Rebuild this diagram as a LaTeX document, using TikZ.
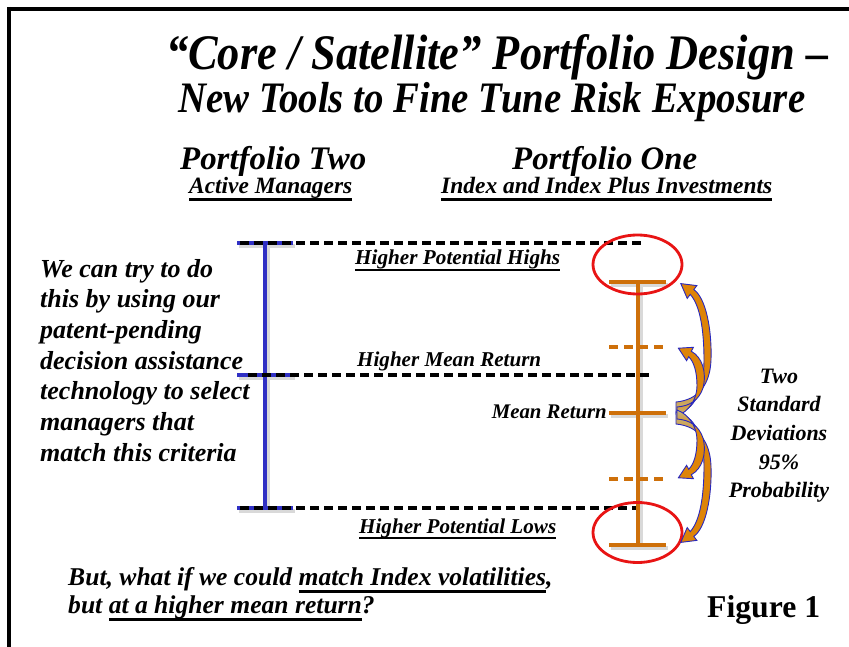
\documentclass[tikz,border=0pt]{standalone}
\usepackage{fontspec}
\usepackage{graphicx}
\setmainfont{Liberation Serif}
\definecolor{barblue}{RGB}{48,48,196}
\definecolor{barorange}{RGB}{206,112,10}
\definecolor{ellred}{RGB}{232,20,20}
\definecolor{arrline}{RGB}{40,40,190}
\definecolor{arrorange}{RGB}{222,132,8}
\definecolor{arrgreen}{RGB}{186,204,182}
\pgfdeclareverticalshading{arrup}{100bp}{color(0bp)=(arrgreen); color(18bp)=(arrgreen); color(40bp)=(arrorange); color(100bp)=(arrorange)}
\pgfdeclareverticalshading{arrdown}{100bp}{color(0bp)=(arrorange); color(60bp)=(arrorange); color(82bp)=(arrgreen); color(100bp)=(arrgreen)}
\newsavebox\ulbox
\newcommand\myul[1]{\sbox\ulbox{#1}\rlap{\rule[-0.3em]{\wd\ulbox}{0.12em}}\usebox\ulbox}
\newcommand\fitw[3]{\resizebox{#1}{!}{\fontsize{#2}{#2}\selectfont #3}}
\begin{document}
\begin{tikzpicture}[x=1pt,y=-1pt,
  txt/.style={inner sep=0pt, font=\bfseries\itshape},
  dline/.style={black, line width=3.2pt, dash pattern=on 9pt off 5pt},
  bluebar/.style={barblue, line width=3.2pt},
  orbar/.style={barorange, line width=3.5pt},
  ordash/.style={barorange, line width=3.5pt, dash pattern=on 9pt off 6pt},
  shadow/.style={black!15, line width=3.5pt},
  redell/.style={ellred, line width=2.8pt},
  arrshape/.style={draw=arrline, line width=0.9pt}]
\useasboundingbox (0,0) rectangle (849,647);
\fill[white] (0,0) rectangle (849,647);
% frame
\draw[line width=4pt] (7,9) -- (849,9);
\draw[line width=4pt] (9,7) -- (9,647);

% titles
\node[txt, anchor=base west] (t1) at (166,70) {\scalebox{1}[1.12]{\fitw{662pt}{40}{“Core / Satellite” Portfolio Design –}}};
\node[txt, anchor=base west] (t2) at (178,113) {\scalebox{1}[1.12]{\fitw{627pt}{36}{New Tools to Fine Tune Risk Exposure}}};
\node[txt, anchor=base west] (p2) at (180,170) {\fitw{186pt}{32}{Portfolio Two}};
\node[txt, anchor=base west] (p1) at (512,170) {\fitw{185pt}{32}{Portfolio One}};
\node[txt, anchor=base west] (s2) at (189,194) {\fitw{163pt}{20}{\myul{Active Managers}}};
\node[txt, anchor=base west] (s1) at (441,194) {\fitw{331pt}{20}{\myul{Index and Index Plus Investments}}};

% left paragraph
\node[txt, anchor=base west] (para) at (40,277) {\fontsize{26}{30.7}\selectfont
  \begin{tabular}[t]{@{}l@{}}We can try to do\\ this by using our\\ patent-pending\\ decision assistance\\ technology to select\\ managers that\\ match this criteria\end{tabular}};

% coordinates
\coordinate (b1) at (265,243);
\coordinate (b2) at (265,375);
\coordinate (b3) at (265,508);
\coordinate (d1) at (645,243);
\coordinate (d2) at (650,375);
\coordinate (d3) at (640,508);
\coordinate (o1) at (638,282);
\coordinate (oa) at (638,347);
\coordinate (o2) at (638,413);
\coordinate (ob) at (638,479);
\coordinate (o3) at (638,545);

% shadows
\draw[shadow] ([shift={(3,3)}]b1) -- ([shift={(3,3)}]b3);
\draw[shadow] ([shift={(3,3)}]o1) -- ([shift={(3,3)}]o3);
\foreach \c in {b1,b2,b3} \draw[shadow] ([shift={(-26,3)}]\c) -- ([shift={(30,3)}]\c);
\foreach \c in {o1,o2,o3} \draw[shadow] ([shift={(-27,3)}]\c) -- ([shift={(30,3)}]\c);

% blue bar
\draw[bluebar] (b1) -- (b3);
\foreach \c in {b1,b2,b3} \draw[bluebar] ([xshift=-28]\c) -- ([xshift=28]\c);
% dashed lines
\draw[dline] ([xshift=-25]b1) -- (d1);
\draw[dline] ([xshift=-17]b2) -- (d2);
\draw[dline] ([xshift=-25]b3) -- (d3);

% orange bar
\draw[orbar] (o1) -- (o3);
\foreach \c in {o1,o2,o3} \draw[orbar] ([xshift=-29]\c) -- ([xshift=28]\c);
\foreach \c in {oa,ob} \draw[ordash] ([xshift=-29]\c) -- ([xshift=28]\c);

% labels
\node[txt, anchor=base west] (lh) at (355,265) {\fitw{205pt}{19}{\myul{Higher Potential Highs}}};
\node[txt, anchor=base west] (lm) at (357,366) {\fitw{184pt}{19}{Higher Mean Return}};
\node[txt, anchor=base east] (mr) at (607,418) {\fitw{115pt}{19}{Mean Return}};
\node[txt, anchor=base west] (ll) at (359,533) {\fitw{197pt}{19}{\myul{Higher Potential Lows}}};

% ellipses
\draw[redell] (637.5,264.5) ellipse [x radius=44.5, y radius=29.5];
\draw[redell] (637.5,532.5) ellipse [x radius=44.5, y radius=30];

% curved arrows: top pair
\shade[arrshape, shading=arrup]
  (676,402) .. controls (698,400) and (710,385) .. (711,360)
  .. controls (712,330) and (706,298) .. (693.8,289.6) -- (696.8,285.6) -- (680.8,283.6)
  -- (687.2,298.4) -- (690.2,294.4) .. controls (700,305) and (704,330) .. (704,360)
  .. controls (704,390) and (695,410) .. (676,414) -- cycle;
\shade[arrshape, shading=arrup]
  (677,407) .. controls (690,406) and (699,400) .. (703,388)
  .. controls (707,372) and (702,357) .. (691.3,351.3) -- (693.4,347.3) -- (678.4,348.2)
  -- (686.6,360.7) -- (688.7,356.7) .. controls (694,362) and (697,372) .. (697,386)
  .. controls (697,400) and (688,412) .. (677,416) -- cycle;
% curved arrows: bottom pair
\shade[arrshape, shading=arrdown]
  (676,424) .. controls (698,426) and (710,441) .. (711,466)
  .. controls (712,496) and (706,528) .. (693.8,536.4) -- (696.8,540.4) -- (680.8,542.4)
  -- (687.2,527.6) -- (690.2,531.6) .. controls (700,521) and (704,496) .. (704,466)
  .. controls (704,436) and (695,416) .. (676,412) -- cycle;
\shade[arrshape, shading=arrdown]
  (677,419) .. controls (690,420) and (699,426) .. (703,438)
  .. controls (707,454) and (702,469) .. (691.3,474.7) -- (693.4,478.7) -- (678.4,477.8)
  -- (686.6,465.3) -- (688.7,469.3) .. controls (694,464) and (697,454) .. (697,440)
  .. controls (697,426) and (688,414) .. (677,410) -- cycle;

% right text
\node[txt, anchor=base] (sd) at (779,383) {\fontsize{22}{28.7}\selectfont
  \begin{tabular}[t]{@{}c@{}}Two\\ Standard\\ Deviations\\ 95\%\\ Probability\end{tabular}};

% bottom text
\node[txt, anchor=base west] (q) at (68,585) {\fontsize{25.6}{28}\selectfont
  \begin{tabular}[t]{@{}l@{}}But, what if we could \myul{match Index volatilities},\\ but \myul{at a higher mean return}?\end{tabular}};
\node[inner sep=0pt, font=\bfseries, anchor=base west] (fig) at (707,617) {\fitw{113pt}{31}{Figure 1}};
\end{tikzpicture}
\end{document}
